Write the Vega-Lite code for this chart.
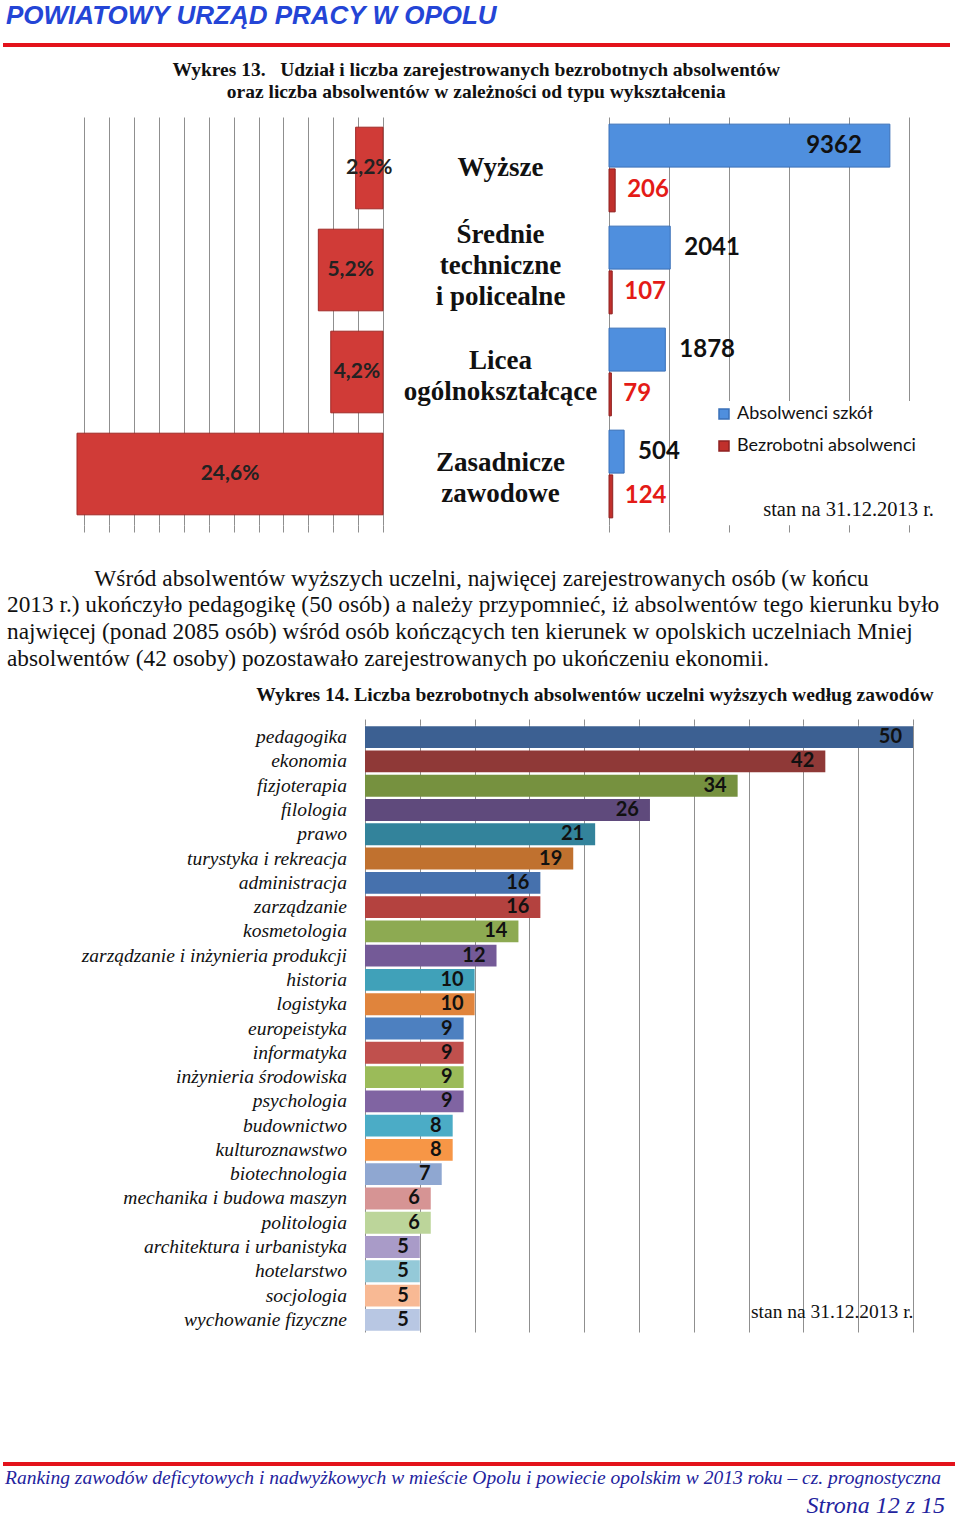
{
  "$schema": "https://vega.github.io/schema/vega-lite/v6.json",
  "background": "white",
  "padding": {"left": 1, "top": 3, "right": 0, "bottom": 0},
  "spacing": 0,
  "datasets": {
    "typy": [
      {"typ": "Wyższe", "udzial": 2.2, "udzialEtykieta": "2,2%"},
      {"typ": "Średnie\ntechniczne\ni policealne", "udzial": 5.2, "udzialEtykieta": "5,2%"},
      {"typ": "Licea\nogólnokształcące", "udzial": 4.2, "udzialEtykieta": "4,2%"},
      {"typ": "Zasadnicze\nzawodowe", "udzial": 24.6, "udzialEtykieta": "24,6%"}
    ],
    "liczby": [
      {"typ": "Wyższe", "seria": "Absolwenci szkół", "liczba": 9362},
      {"typ": "Wyższe", "seria": "Bezrobotni absolwenci", "liczba": 206},
      {"typ": "Średnie\ntechniczne\ni policealne", "seria": "Absolwenci szkół", "liczba": 2041},
      {"typ": "Średnie\ntechniczne\ni policealne", "seria": "Bezrobotni absolwenci", "liczba": 107},
      {"typ": "Licea\nogólnokształcące", "seria": "Absolwenci szkół", "liczba": 1878},
      {"typ": "Licea\nogólnokształcące", "seria": "Bezrobotni absolwenci", "liczba": 79},
      {"typ": "Zasadnicze\nzawodowe", "seria": "Absolwenci szkół", "liczba": 504},
      {"typ": "Zasadnicze\nzawodowe", "seria": "Bezrobotni absolwenci", "liczba": 124}
    ],
    "kierunki": [
      {"kierunek": "pedagogika", "liczba": 50},
      {"kierunek": "ekonomia", "liczba": 42},
      {"kierunek": "fizjoterapia", "liczba": 34},
      {"kierunek": "filologia", "liczba": 26},
      {"kierunek": "prawo", "liczba": 21},
      {"kierunek": "turystyka i rekreacja", "liczba": 19},
      {"kierunek": "administracja", "liczba": 16},
      {"kierunek": "zarządzanie", "liczba": 16},
      {"kierunek": "kosmetologia", "liczba": 14},
      {"kierunek": "zarządzanie i inżynieria produkcji", "liczba": 12},
      {"kierunek": "historia", "liczba": 10},
      {"kierunek": "logistyka", "liczba": 10},
      {"kierunek": "europeistyka", "liczba": 9},
      {"kierunek": "informatyka", "liczba": 9},
      {"kierunek": "inżynieria środowiska", "liczba": 9},
      {"kierunek": "psychologia", "liczba": 9},
      {"kierunek": "budownictwo", "liczba": 8},
      {"kierunek": "kulturoznawstwo", "liczba": 8},
      {"kierunek": "biotechnologia", "liczba": 7},
      {"kierunek": "mechanika i budowa maszyn", "liczba": 6},
      {"kierunek": "politologia", "liczba": 6},
      {"kierunek": "architektura i urbanistyka", "liczba": 5},
      {"kierunek": "hotelarstwo", "liczba": 5},
      {"kierunek": "socjologia", "liczba": 5},
      {"kierunek": "wychowanie fizyczne", "liczba": 5}
    ]
  },
  "config": {
    "view": {"stroke": null},
    "axis": {"gridColor": "#8f8f8f", "gridWidth": 1, "tickColor": "#8f8f8f", "domain": false},
    "title": {"color": "#111111", "font": "Liberation Serif"}
  },
  "vconcat": [
    {
      "width": 947,
      "height": 15,
      "data": {"values": [{"k": "linia"}]},
      "mark": {"type": "rule", "color": "#e3121b", "strokeWidth": 4},
      "encoding": {"y": {"datum": 1, "type": "quantitative", "scale": {"domain": [0, 1]}, "axis": null}},
      "title": {"text": "POWIATOWY URZĄD PRACY W OPOLU", "orient": "top", "anchor": "start", "dx": 5, "offset": 14, "font": "Liberation Sans", "fontSize": 26, "fontStyle": "italic", "fontWeight": "bold", "color": "#2445d6"}
    },
    {
      "title": {"text": ["Wykres 13.\u00a0\u00a0\u00a0Udział i liczba zarejestrowanych bezrobotnych absolwentów", "oraz liczba absolwentów w zależności od typu wykształcenia"], "anchor": "middle", "font": "Liberation Serif", "fontSize": 19.5, "fontWeight": "bold", "lineHeight": 22, "offset": 14.5, "dx": 20},
      "spacing": 0,
      "hconcat": [
        {
          "width": 73,
          "height": 408,
          "data": {"values": []},
          "mark": "rule",
          "encoding": {"y": {"field": "k", "type": "nominal", "axis": null}}
        },
        {
          "width": 306,
          "height": 408,
          "data": {"name": "typy"},
          "encoding": {"y": {"field": "typ", "type": "nominal", "sort": null, "axis": null, "scale": {"paddingInner": 0.2, "paddingOuter": 0.1}}},
          "layer": [
            {
              "mark": {"type": "bar", "color": "#d03b37", "stroke": "#a02a27", "strokeWidth": 1},
              "encoding": {
                "x": {"field": "udzial", "type": "quantitative", "scale": {"domain": [0, 24.6], "reverse": true, "nice": false}, "axis": {"grid": true, "values": [0, 2, 4, 6, 8, 10, 12, 14, 16, 18, 20, 22, 24], "labels": false, "ticks": true, "tickSize": 7, "title": null}}
              }
            },
            {
              "mark": {"type": "text", "font": "Lato", "fontWeight": "bold", "fontSize": 21, "color": "#222222"},
              "encoding": {
                "x": {"field": "udzial", "type": "quantitative", "scale": {"domain": [0, 49.2], "reverse": true, "nice": false}, "axis": null},
                "text": {"field": "udzialEtykieta"}
              }
            }
          ],
          "resolve": {"scale": {"x": "independent"}}
        },
        {
          "width": 215,
          "height": 408,
          "data": {"name": "typy"},
          "encoding": {
            "y": {"field": "typ", "type": "nominal", "sort": ["Wyższe", "Średnie\ntechniczne\ni policealne", "Licea\nogólnokształcące", "Zasadnicze\nzawodowe"], "axis": null},
            "text": {"field": "typ"}
          },
          "layer": [
            {
              "transform": [{"filter": "length(split(datum.typ, '\\n')) == 1"}],
              "mark": {"type": "text", "font": "Liberation Serif", "fontWeight": "bold", "fontSize": 27, "lineHeight": 31, "lineBreak": "\n", "color": "#111111"}
            },
            {
              "transform": [{"filter": "length(split(datum.typ, '\\n')) == 2"}],
              "mark": {"type": "text", "font": "Liberation Serif", "fontWeight": "bold", "fontSize": 27, "lineHeight": 31, "lineBreak": "\n", "color": "#111111", "dy": -11}
            },
            {
              "transform": [{"filter": "length(split(datum.typ, '\\n')) == 3"}],
              "mark": {"type": "text", "font": "Liberation Serif", "fontWeight": "bold", "fontSize": 27, "lineHeight": 31, "lineBreak": "\n", "color": "#111111", "dy": -35}
            }
          ]
        },
        {
          "width": 300,
          "height": 408,
          "data": {"name": "liczby"},
          "encoding": {
            "y": {"field": "typ", "type": "nominal", "sort": null, "axis": null, "scale": {"paddingInner": 0.14, "paddingOuter": 0.07}},
            "yOffset": {"field": "seria", "type": "nominal", "sort": ["Absolwenci szkół", "Bezrobotni absolwenci"], "scale": {"paddingInner": 0.04}}
          },
          "layer": [
            {
              "mark": {"type": "bar", "strokeWidth": 1},
              "encoding": {
                "x": {"field": "liczba", "type": "quantitative", "stack": null, "scale": {"domain": [0, 10000], "nice": false}, "axis": {"grid": true, "values": [0, 1000, 2000, 3000, 4000, 5000, 6000, 7000, 8000, 9000, 10000], "labels": false, "ticks": true, "tickSize": 7, "title": null}},
                "color": {
                  "field": "seria", "type": "nominal",
                  "scale": {"domain": ["Absolwenci szkół", "Bezrobotni absolwenci"], "range": ["#4f8fde", "#c0302c"]},
                  "legend": {"orient": "none", "legendX": 708, "legendY": 356, "title": "stan na 31.12.2013 r.", "titleOrient": "bottom", "titleFont": "Liberation Serif", "titleFontSize": 20.5, "titleFontWeight": "normal", "titleColor": "#111111", "titleAnchor": "end", "titlePadding": 45, "labelFont": "Lato", "labelFontSize": 18, "labelColor": "#111111", "labelLimit": 300, "labelExpr": "datum.label + '\u00a0\u00a0\u00a0\u00a0\u200b'", "symbolType": "square", "symbolSize": 100, "rowPadding": 14, "fillColor": "white", "padding": 4}
                },
                "stroke": {
                  "field": "seria", "type": "nominal",
                  "scale": {"domain": ["Absolwenci szkół", "Bezrobotni absolwenci"], "range": ["#3a70b8", "#8e2020"]},
                  "legend": null
                }
              }
            },
            {
              "transform": [{"filter": "datum.seria == 'Absolwenci szkół' && datum.liczba >= 5000"}],
              "mark": {"type": "text", "align": "right", "dx": -28, "font": "Lato", "fontWeight": "bold", "fontSize": 24, "color": "#111111"},
              "encoding": {"x": {"field": "liczba", "type": "quantitative"}, "text": {"field": "liczba", "type": "quantitative", "format": "d"}}
            },
            {
              "transform": [{"filter": "datum.seria == 'Absolwenci szkół' && datum.liczba < 5000"}],
              "mark": {"type": "text", "align": "left", "dx": 14, "font": "Lato", "fontWeight": "bold", "fontSize": 24, "color": "#111111"},
              "encoding": {"x": {"field": "liczba", "type": "quantitative"}, "text": {"field": "liczba", "type": "quantitative", "format": "d"}}
            },
            {
              "transform": [{"filter": "datum.seria == 'Bezrobotni absolwenci'"}],
              "mark": {"type": "text", "align": "left", "dx": 12, "font": "Lato", "fontWeight": "bold", "fontSize": 24, "color": "#e41b17"},
              "encoding": {"x": {"field": "liczba", "type": "quantitative"}, "text": {"field": "liczba", "type": "quantitative", "format": "d"}}
            }
          ]
        }
      ]
    },
    {
      "width": 940,
      "height": 33,
      "data": {"values": []},
      "mark": "rule",
      "encoding": {"y": {"field": "k", "type": "nominal", "axis": null}}
    },
    {
      "width": 940,
      "height": 8,
      "data": {"values": []},
      "mark": "rule",
      "encoding": {"y": {"field": "k", "type": "nominal", "axis": null}},
      "title": {
        "text": [
          "\u200b\u00a0\u00a0\u00a0\u00a0\u00a0\u00a0\u00a0\u00a0\u00a0\u00a0\u00a0\u00a0\u00a0\u00a0\u00a0Wśród absolwentów wyższych uczelni, najwięcej zarejestrowanych osób (w końcu",
          "2013 r.) ukończyło pedagogikę (50 osób) a należy przypomnieć, iż absolwentów tego kierunku było",
          "najwięcej (ponad 2085 osób) wśród osób kończących ten kierunek w opolskich uczelniach Mniej",
          "absolwentów (42 osoby) pozostawało zarejestrowanych po ukończeniu ekonomii."
        ],
        "anchor": "start", "dx": 4, "offset": 6, "font": "Liberation Serif", "fontSize": 23.3, "fontWeight": "normal", "lineHeight": 26.7, "color": "#111111"
      }
    },
    {
      "title": {"text": "Wykres 14. Liczba bezrobotnych absolwentów uczelni wyższych według zawodów", "anchor": "end", "dx": 20, "font": "Liberation Serif", "fontSize": 19.5, "fontWeight": "bold", "offset": 12.7},
      "spacing": 17,
      "hconcat": [
        {
          "width": 344,
          "height": 607,
          "data": {"name": "kierunki"},
          "mark": {"type": "text", "align": "right", "font": "Liberation Serif", "fontStyle": "italic", "fontSize": 19.5, "color": "#111111"},
          "encoding": {
            "y": {"field": "kierunek", "type": "nominal", "sort": null, "axis": null},
            "x": {"datum": 1, "type": "quantitative", "scale": {"domain": [0, 1]}, "axis": null},
            "text": {"field": "kierunek"}
          }
        },
        {
          "width": 548,
          "height": 607,
          "data": {"name": "kierunki"},
          "encoding": {
            "y": {"field": "kierunek", "type": "nominal", "sort": null, "axis": null, "scale": {"paddingInner": 0.1, "paddingOuter": 0.05}}
          },
          "layer": [
            {
              "mark": {"type": "bar"},
              "encoding": {
                "x": {"field": "liczba", "type": "quantitative", "stack": null, "scale": {"domain": [0, 50], "nice": false},
                  "axis": {"orient": "top", "grid": true, "values": [0, 5, 10, 15, 20, 25, 30, 35, 40, 45, 50], "labels": false, "ticks": true, "tickSize": 6, "title": "stan na 31.12.2013 r.", "titleAnchor": "end", "titleAlign": "right", "titleFont": "Liberation Serif", "titleFontSize": 19.5, "titleFontWeight": "normal", "titleColor": "#111111", "titleY": 586, "titleBaseline": "middle"}},
                "fill": {"field": "kierunek", "type": "nominal", "legend": null,
                  "scale": {
                    "domain": ["pedagogika", "ekonomia", "fizjoterapia", "filologia", "prawo", "turystyka i rekreacja", "administracja", "zarządzanie", "kosmetologia", "zarządzanie i inżynieria produkcji", "historia", "logistyka", "europeistyka", "informatyka", "inżynieria środowiska", "psychologia", "budownictwo", "kulturoznawstwo", "biotechnologia", "mechanika i budowa maszyn", "politologia", "architektura i urbanistyka", "hotelarstwo", "socjologia", "wychowanie fizyczne"],
                    "range": ["#3c6092", "#8f3937", "#76913f", "#5f4a7c", "#33839b", "#c0712f", "#4671ad", "#b4423f", "#8daa52", "#745a97", "#40a1b9", "#e0843c", "#4d80c0", "#c0504d", "#9bbb59", "#8064a2", "#4bacc6", "#f79646", "#8fa7d1", "#d69494", "#bcd59a", "#a99bc8", "#94c9d8", "#f8b994", "#b8c7e3"]}}
              }
            },
            {
              "mark": {"type": "text", "align": "right", "dx": -11, "font": "Lato", "fontWeight": "bold", "fontSize": 20, "color": "#111111"},
              "encoding": {
                "x": {"field": "liczba", "type": "quantitative"},
                "text": {"field": "liczba", "type": "quantitative", "format": "d"}
              }
            }
          ]
        }
      ]
    },
    {
      "width": 952,
      "height": 132,
      "data": {"values": [{"k": "linia"}]},
      "mark": {"type": "rule", "color": "#e3121b", "strokeWidth": 4},
      "encoding": {"y": {"datum": 0, "type": "quantitative", "scale": {"domain": [0, 1]}, "axis": null}},
      "title": {"text": "Ranking zawodów deficytowych i nadwyżkowych w mieście Opolu i powiecie opolskim w 2013 roku – cz. prognostyczna", "orient": "bottom", "anchor": "start", "dx": 4, "offset": 3, "font": "Liberation Serif", "fontSize": 19.5, "fontStyle": "italic", "fontWeight": "normal", "color": "#23239e"}
    },
    {
      "width": 942,
      "height": 4,
      "data": {"values": []},
      "mark": "rule",
      "encoding": {"y": {"field": "k", "type": "nominal", "axis": null}},
      "title": {"text": "Strona 12 z 15", "orient": "bottom", "anchor": "end", "offset": 2, "font": "Liberation Serif", "fontSize": 24, "fontStyle": "italic", "fontWeight": "normal", "color": "#23239e"}
    }
  ]
}
